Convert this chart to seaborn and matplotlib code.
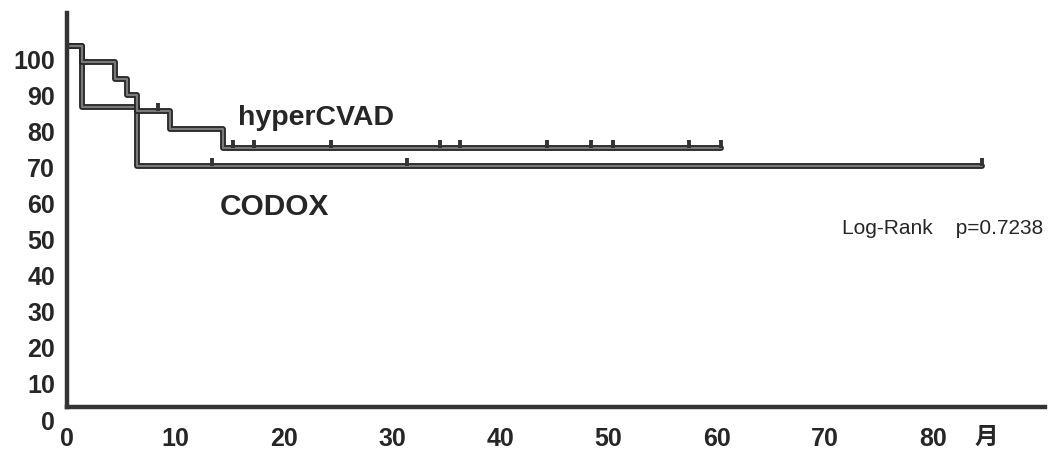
import numpy as np
import pandas as pd
import matplotlib
matplotlib.use("Agg")
import matplotlib.pyplot as plt
import matplotlib.patheffects as pe
from matplotlib.transforms import ScaledTranslation
import seaborn as sns

# step curves (months, % survival)
hyper_t = [0, 1.4, 4.4, 5.5, 6.5, 9.5, 14.4, 60.4]
hyper_s = [100, 95.6, 90.9, 86.4, 82.0, 77.0, 71.7, 71.7]
codox_t = [0, 1.4, 6.5, 84.5]
codox_s = [100, 83.1, 66.8, 66.8]

# censored observations
hyper_cens = [8.4, 15.3, 17.3, 24.4, 34.4, 36.3, 44.3, 48.4, 50.4, 57.4, 60.4]
codox_cens = [13.4, 31.4, 84.5]

x_ticks = [0, 10, 20, 30, 40, 50, 60, 70, 80]
y_ticks = [0, 10, 20, 30, 40, 50, 60, 70, 80, 90, 100]

sns.set_style("white")
plt.rcParams['font.family'] = ['Liberation Sans', 'Noto Sans CJK JP', 'DejaVu Sans']

df = pd.concat([
    pd.DataFrame({'t': hyper_t, 's': hyper_s, 'arm': 'hyperCVAD'}),
    pd.DataFrame({'t': codox_t, 's': codox_s, 'arm': 'CODOX'}),
], ignore_index=True)

fig = plt.figure(figsize=(10.54, 4.57), dpi=100)
ax = fig.add_axes([67 / 1054, 50 / 457, 978 / 1054, 394 / 457])

line_fx = [pe.Stroke(linewidth=4.2, foreground='#262626'), pe.Normal()]
sns.lineplot(data=df, x='t', y='s', units='arm', estimator=None, sort=False,
             drawstyle='steps-post', color='#7a7a7a', linewidth=1.6, ax=ax,
             path_effects=line_fx, legend=False)


def at(times, surv, c):
    i = np.searchsorted(times, c, side='right') - 1
    return surv[i]


ax.plot(hyper_cens, [at(hyper_t, hyper_s, c) for c in hyper_cens], linestyle='none',
        marker=2, markersize=6, markeredgewidth=2.8, color='#333333')
ax.plot(codox_cens, [at(codox_t, codox_s, c) for c in codox_cens], linestyle='none',
        marker=2, markersize=6, markeredgewidth=2.8, color='#333333')

ax.set_xlim(0, 90.3)
ax.set_ylim(0, 109.2)
ax.set_xticks(x_ticks)
ax.set_yticks(y_ticks)
ax.set_xticklabels([str(v) for v in x_ticks], fontsize=18, fontweight='bold')
ax.set_yticklabels([str(v) for v in y_ticks], fontsize=18, fontweight='bold')
ax.set_xlabel('')
ax.set_ylabel('')

for side in ['top', 'right']:
    ax.spines[side].set_visible(False)
for side in ['left', 'bottom']:
    ax.spines[side].set_linewidth(3.2)
    ax.spines[side].set_color('#333333')
ax.tick_params(axis='x', direction='out', length=3.5, width=2, color='#333333', pad=11)
ax.tick_params(axis='y', direction='out', length=3.5, width=2, color='#333333', pad=5)

shift = ScaledTranslation(0, -0.13, fig.dpi_scale_trans)
for lab in ax.get_yticklabels():
    lab.set_transform(lab.get_transform() + shift)

ax.text(15.8, 80, 'hyperCVAD', fontsize=20.5, fontweight='bold', va='center', ha='left')
ax.text(14.1, 55.4, 'CODOX', fontsize=21.5, fontweight='bold', va='center', ha='left')
ax.text(71.6, 49.6, 'Log-Rank    p=0.7238', fontsize=15, va='center', ha='left')
ax.text(84.9, -8.3, '月', fontsize=17, fontweight='bold', va='center', ha='center',
        clip_on=False)

fig.savefig('out.png', dpi=100)
